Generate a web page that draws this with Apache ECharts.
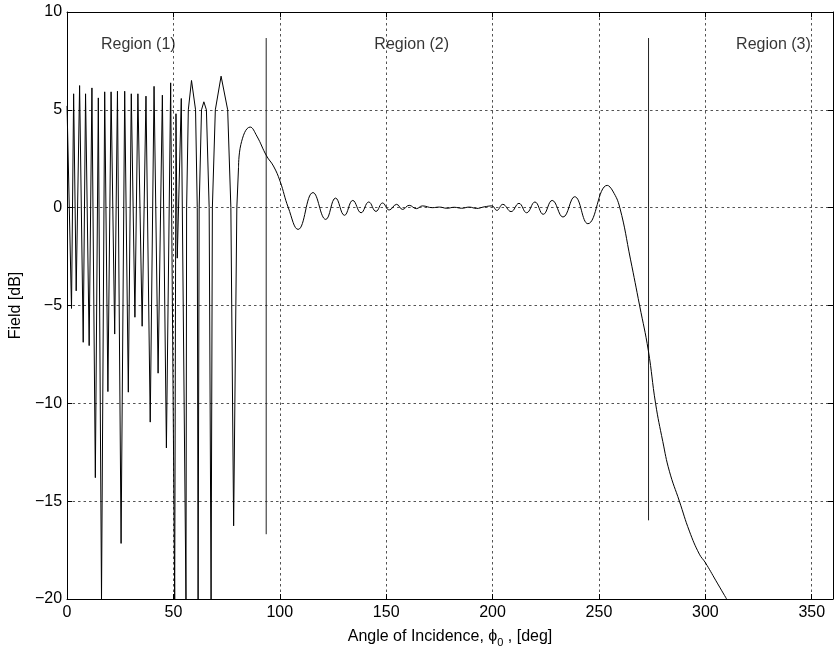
<!DOCTYPE html>
<html>
<head>
<meta charset="utf-8">
<script src="https://cdn.jsdelivr.net/npm/echarts@6/dist/echarts.min.js"></script>
<style>
html,body{margin:0;padding:0;background:#fff;}
#chart{width:836px;height:653px;}
</style>
</head>
<body>
<div id="chart"></div>
<script>
// Region (1): sharp-null lobes (angle in deg, field in dB)
const lobeAngles = [0, 2.1, 3.1, 4.3, 5.9, 7.6, 8.7, 10.4, 11.7, 13.3, 14.7, 16.2, 17.7, 19.2, 20.7, 22.4, 23.7, 25.4, 27.1, 28.8, 30.2, 31.9, 33.3, 35.3, 37.1, 39.1, 40.9, 42.8, 44.8, 46.7, 48.7, 50.6, 51.2, 51.8, 53.7, 55.9, 56.2, 57.0, 58.5, 60.4, 61.2, 61.6, 62.1, 63.2, 64.3, 65.5, 66.8, 67.7, 68.3, 69.7, 72.4, 75.5, 77.0, 78.3, 79.8, 80.6];
const lobeField  = [5.2, -5.15, 5.82, -4.25, 6.24, -6.88, 5.82, -7.05, 6.12, -13.8, 5.61, -20, 5.92, -9.4, 5.92, -6.46, 5.95, -17.16, 5.95, -9.43, 5.82, -5.6, 5.82, -6.06, 5.70, -10.96, 6.2, -8.46, 5.75, -12.28, 6.38, -20, 4.8, -2.58, 5.58, -20, 0, 5.0, 6.5, 5.0, 0, -20, 0, 5.0, 5.41, 5.0, 0, -20, 0, 5.0, 6.72, 5.0, 0, -16.26, 0, 2.06];
// Region (2)-(3): smooth part
const tailAngles = [80.6, 81.7, 86.1, 89.2, 93.8, 97.0, 100.1, 104.0, 108.6, 115.6, 121.6, 126.2, 130.4, 134.3, 138.2, 141.8, 145.2, 148.3, 151.4, 154.9, 157.7, 160.8, 164.2, 167.0, 171.7, 175.0, 178.5, 182.0, 185.5, 189.0, 192.5, 196.0, 199.7, 202.0, 204.8, 208.7, 212.4, 216.0, 219.9, 223.8, 228.0, 233.1, 238.6, 244.8, 253.9, 256.5, 259.8, 264.8, 269.1, 273.2, 276.6, 280.0, 283.1, 287.8, 292.5, 297.2, 300.0, 305.0, 310.0];
const tailField  = [2.06, 3.23, 4.12, 3.66, 2.64, 2.13, 1.36, 0.0, -1.11, 0.77, -0.60, 0.49, -0.39, 0.37, -0.26, 0.29, -0.19, 0.24, -0.12, 0.17, -0.09, 0.12, -0.05, 0.09, 0.0, 0.03, -0.03, 0.02, -0.03, 0.03, -0.04, 0.04, 0.09, -0.14, 0.17, -0.20, 0.22, -0.26, 0.29, -0.34, 0.37, -0.48, 0.56, -0.82, 1.14, 0.85, 0, -2.63, -5.0, -7.3, -10.0, -11.95, -13.47, -15.0, -16.53, -17.71, -18.14, -19.07, -20];
// Region boundary markers
const boundaryAngles = [93.6, 273.3];
const boundaryTop = [8.67, 8.67];
const boundaryBottom = [-16.69, -15.98];
// Region labels
const regionNames = ['Region (1)', 'Region (2)', 'Region (3)'];
const regionLabelAngle = [33.5, 162, 332];
const regionLabelField = [8.33, 8.33, 8.33];
// Axis ticks
const xTicks = [0, 50, 100, 150, 200, 250, 300, 350];
const yTicks = [-20, -15, -10, -5, 0, 5, 10];

const FONT = 'Liberation Sans, Arial, Helvetica, sans-serif';
const chart = echarts.init(document.getElementById('chart'));

const zip = (a, b) => a.map((v, i) => [v, b[i]]);
const lineStyle = {color: '#000', width: 1};

const series = [
  {type: 'line', data: zip(lobeAngles, lobeField), showSymbol: false, symbol: 'none', lineStyle, animation: false, z: 3},
  {type: 'line', data: zip(tailAngles, tailField), smooth: 0.45, showSymbol: false, symbol: 'none', lineStyle, animation: false, z: 3}
];
boundaryAngles.forEach((a, i) => {
  series.push({type: 'line', data: [[a, boundaryTop[i]], [a, boundaryBottom[i]]], symbol: 'none', lineStyle: {color: '#222', width: 1}, animation: false, z: 2});
});
series.push({
  type: 'scatter', symbolSize: 0, animation: false, silent: true,
  data: regionNames.map((n, i) => ({name: n, value: [regionLabelAngle[i], regionLabelField[i]]})),
  label: {show: true, position: 'inside', formatter: p => p.name, color: '#000', fontSize: 16, fontFamily: FONT}
});

const splitLine = {show: true, lineStyle: {color: '#000', width: 0.8, type: [2.5, 3], opacity: 0.85}};
const fmt = v => (v < 0 ? '\u2212' + Math.abs(v) : String(v));

chart.setOption({
  animation: false,
  backgroundColor: '#fff',
  grid: {left: 62, top: 12, width: 771, height: 589, containLabel: false},
  xAxis: [
    {type: 'value', min: 0, max: 360, interval: 50,
     axisLine: {show: true, onZero: false, lineStyle: {color: '#000', width: 1}},
     axisTick: {show: true, inside: true, length: 5, lineStyle: {color: '#000'}},
     axisLabel: {color: '#000', fontSize: 16, fontFamily: FONT, margin: 6, formatter: v => xTicks.includes(v) ? fmt(v) : ''},
     splitLine,
     name: 'Angle of Incidence, {p|\u03d5}{s|0} , [deg]', nameLocation: 'middle', nameGap: 26,
     nameTextStyle: {color: '#000', fontSize: 16, fontFamily: FONT,
       rich: {p: {fontSize: 16, fontFamily: FONT, color: '#000'}, s: {fontSize: 11, fontFamily: FONT, color: '#000', padding: [12, 0, 0, 0]}}}},
    {type: 'value', min: 0, max: 360, interval: 50, position: 'top',
     axisLine: {show: true, onZero: false, lineStyle: {color: '#000', width: 1}},
     axisTick: {show: true, inside: true, length: 5, lineStyle: {color: '#000'}},
     axisLabel: {show: false}, splitLine: {show: false}}
  ],
  yAxis: [
    {type: 'value', min: -20, max: 10, interval: 5,
     axisLine: {show: true, onZero: false, lineStyle: {color: '#000', width: 1}},
     axisTick: {show: true, inside: true, length: 5, lineStyle: {color: '#000'}},
     axisLabel: {color: '#000', fontSize: 16, fontFamily: FONT, margin: 5, formatter: v => yTicks.includes(v) ? fmt(v) : ''},
     splitLine,
     name: 'Field [dB]', nameLocation: 'middle', nameGap: 31,
     nameTextStyle: {color: '#000', fontSize: 16, fontFamily: FONT}},
    {type: 'value', min: -20, max: 10, interval: 5, position: 'right',
     axisLine: {show: true, onZero: false, lineStyle: {color: '#000', width: 1}},
     axisTick: {show: true, inside: true, length: 5, lineStyle: {color: '#000'}},
     axisLabel: {show: false}, splitLine: {show: false}}
  ],
  series
});
</script>
</body>
</html>
